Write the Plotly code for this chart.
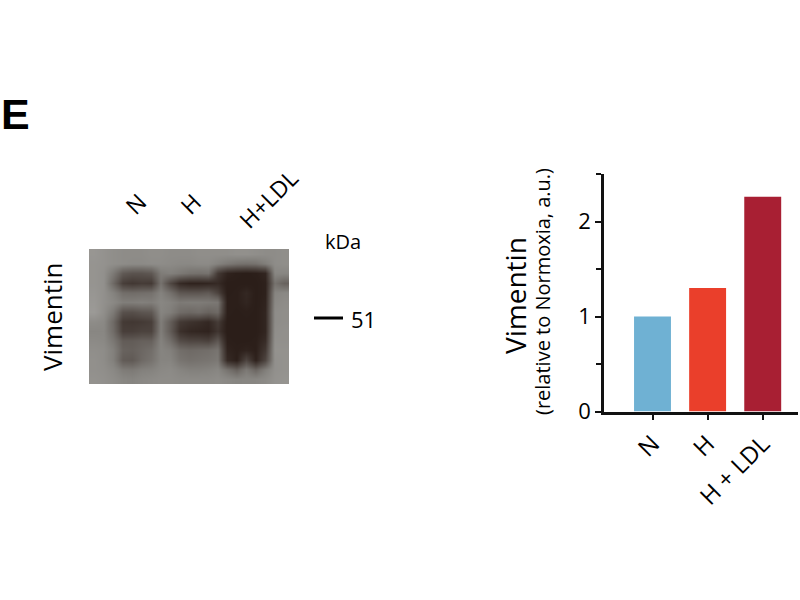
import plotly.graph_objects as go

# bar chart values
conditions = ['N', 'H', 'H + LDL']
vimentin = [1.0, 1.3, 2.26]
bar_colors = ['#6fb1d3', '#ea3f2b', '#a81f33']

# blot, grey level read on a coarse grid (rows top to bottom, columns left to right)
blot_labels = ['N', 'H', 'H+LDL']
blot_grey = [
    [146, 142, 138, 136, 136, 136, 138, 138, 136, 136, 136, 138, 138, 138, 138, 140, 140, 138, 136, 136, 138],
    [144, 142, 138, 136, 134, 134, 136, 136, 134, 132, 132, 134, 134, 126, 118, 112, 110, 112, 122, 136, 138],
    [144, 140, 118, 90, 84, 84, 88, 120, 124, 118, 112, 110, 112, 62, 42, 38, 36, 38, 44, 130, 130],
    [144, 140, 104, 66, 60, 64, 62, 112, 74, 48, 42, 42, 44, 48, 36, 36, 36, 36, 40, 112, 98],
    [146, 140, 126, 108, 106, 108, 110, 126, 110, 88, 86, 86, 90, 70, 36, 38, 46, 36, 40, 128, 132],
    [148, 140, 132, 122, 122, 124, 122, 130, 126, 118, 120, 120, 118, 116, 38, 38, 44, 36, 42, 132, 136],
    [150, 138, 118, 82, 80, 86, 88, 128, 122, 106, 102, 106, 98, 104, 38, 36, 38, 36, 44, 136, 138],
    [136, 132, 104, 62, 60, 62, 66, 122, 94, 62, 56, 52, 46, 64, 36, 36, 36, 36, 44, 136, 138],
    [130, 130, 106, 66, 66, 70, 70, 122, 92, 54, 46, 44, 42, 58, 36, 36, 36, 36, 44, 138, 140],
    [134, 132, 116, 92, 92, 96, 96, 126, 108, 78, 72, 72, 68, 88, 38, 36, 36, 38, 50, 140, 140],
    [138, 136, 124, 98, 96, 102, 108, 128, 124, 108, 104, 106, 108, 114, 42, 38, 42, 38, 60, 142, 142],
    [140, 136, 124, 92, 90, 104, 112, 128, 128, 114, 110, 112, 114, 118, 48, 38, 72, 40, 72, 140, 142],
    [140, 138, 132, 120, 118, 124, 126, 132, 134, 128, 124, 124, 126, 130, 112, 96, 118, 100, 122, 140, 142],
    [142, 140, 136, 130, 128, 132, 134, 136, 136, 134, 134, 134, 134, 136, 132, 128, 130, 130, 134, 142, 144],
]

# drawn height of the page area, measured from the earlier renders
page_h = 586

fig = go.Figure()

fig.add_trace(go.Bar(x=conditions, y=vimentin, width=0.67,
                     marker=dict(color=bar_colors, line_width=0),
                     xaxis='x', yaxis='y', showlegend=False))

fig.add_trace(go.Heatmap(z=blot_grey, zsmooth='best', zmin=0, zmax=255,
                         colorscale=[[0, '#1a100c'], [0.15, '#2c1f1a'], [0.5, '#868480'], [1, '#ffffff']],
                         showscale=False, xaxis='x2', yaxis='y2'))

fig.update_layout(
    width=800, height=600,
    margin=dict(l=0, r=0, t=0, b=0),
    paper_bgcolor='white', plot_bgcolor='white',
    font=dict(family='Open Sans', color='black'),
    xaxis=dict(domain=[604 / 800, 798 / 800], anchor='y', range=[-0.88, 2.64],
               type='category', categoryorder='array', categoryarray=conditions,
               showgrid=False, zeroline=False, showline=True, linecolor='#111', linewidth=2.5,
               ticks='outside', ticklen=6, tickwidth=2, tickcolor='#111',
               tickangle=-45, tickfont=dict(size=24)),
    yaxis=dict(domain=[1 - 411.5 / page_h, 1 - 174 / page_h], anchor='x', range=[0, 2.5],
               tickvals=[0, 1, 2], showgrid=False, zeroline=False,
               showline=True, linecolor='#111', linewidth=2.5,
               ticks='outside', ticklen=6, tickwidth=2, tickcolor='#111',
               tickfont=dict(size=22),
               minor=dict(tickvals=[0.5, 1.5, 2.5], ticks='outside', ticklen=5, tickwidth=2, tickcolor='#111')),
    xaxis2=dict(domain=[89 / 800, 289 / 800], anchor='y2', visible=False),
    yaxis2=dict(domain=[1 - 384 / page_h, 1 - 249 / page_h], anchor='x2', visible=False, autorange='reversed'),
)

def label(text, px, py, size, angle=0, family='Open Sans'):
    fig.add_annotation(text=text, x=px / 800, y=1 - py / page_h, xref='paper', yref='paper',
                       xanchor='center', yanchor='middle',
                       showarrow=False, textangle=angle, font=dict(size=size, family=family))

label('<b>E</b>', 15, 114, 43, family='Liberation Sans')
label('Vimentin', 52, 317, 26, -90)
label('kDa', 343, 242, 20)
label('51', 363, 319, 22)
for name, px, py in zip(blot_labels, [135, 190, 268], [204, 204, 199]):
    label(name, px, py, 23, -45)
label('Vimentin', 515, 296, 28, -90)
label('(relative to Normoxia, a.u.)', 542, 292, 20, -90)

# 51 kDa marker
fig.add_shape(type='line', x0=314 / 800, x1=343 / 800, y0=1 - 318 / page_h, y1=1 - 318 / page_h,
              xref='paper', yref='paper', line=dict(color='black', width=3))

fig.write_html("out.html", default_width='800px', default_height='600px',
               config={'displayModeBar': False},
               post_script="document.body.style.margin='0';")
